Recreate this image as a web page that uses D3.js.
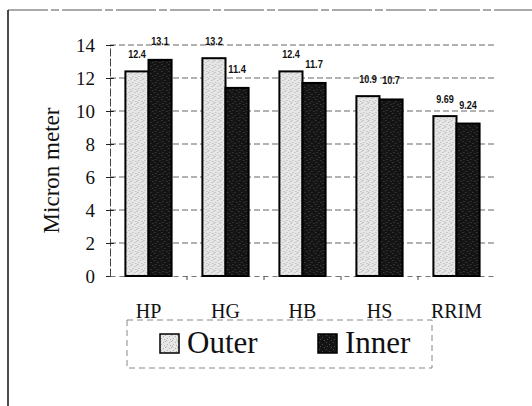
<!DOCTYPE html>
<html>
<head>
<meta charset="utf-8">
<script src="https://cdn.jsdelivr.net/npm/d3@7"></script>
<style>
  html, body { margin: 0; padding: 0; background: #fff; }
  svg { display: block; }
</style>
</head>
<body>
<svg id="chart" width="532" height="406"></svg>
<script>
const categories = ["HP", "HG", "HB", "HS", "RRIM"];
const seriesNames = ["Outer", "Inner"];
const outerValues = [12.4, 13.2, 12.4, 10.9, 9.69];
const innerValues = [13.1, 11.4, 11.7, 10.7, 9.24];
const yTicks = [0, 2, 4, 6, 8, 10, 12, 14];
const yTitle = "Micron meter";

const svg = d3.select("#chart");
const W = 532, H = 406;
const plot = { left: 110, right: 495, top: 45, bottom: 276 };

// patterns
const defs = svg.append("defs");
const pOuter = defs.append("pattern").attr("id", "pOuter").attr("patternUnits", "userSpaceOnUse")
  .attr("width", 6).attr("height", 6);
pOuter.append("rect").attr("width", 6).attr("height", 6).attr("fill", "#e6e6e6");
[[0,0],[3,2],[1,4],[4,5],[5,1]].forEach(([x,y]) =>
  pOuter.append("rect").attr("x", x).attr("y", y).attr("width", 1).attr("height", 1).attr("fill", "#b0b0b0"));
const pInner = defs.append("pattern").attr("id", "pInner").attr("patternUnits", "userSpaceOnUse")
  .attr("width", 7).attr("height", 7);
pInner.append("rect").attr("width", 7).attr("height", 7).attr("fill", "#141414");
[[1,1],[4,3],[2,5],[6,6]].forEach(([x,y]) =>
  pInner.append("rect").attr("x", x).attr("y", y).attr("width", 1).attr("height", 1).attr("fill", "#4a4a4a"));

// outer chart frame
svg.append("line").attr("x1", 8).attr("x2", W).attr("y1", 10).attr("y2", 10)
  .attr("stroke", "#555").attr("stroke-width", 1).attr("stroke-dasharray", "40,3,8,3");
svg.append("line").attr("x1", 8).attr("x2", 8).attr("y1", 10).attr("y2", H)
  .attr("stroke", "#111").attr("stroke-width", 1.5);

const y = d3.scaleLinear().domain([0, 14]).range([plot.bottom, plot.top]);
const x0 = d3.scaleBand().domain(categories).range([plot.left, plot.right])
  .paddingInner(0.4).paddingOuter(0.2);
const x1 = d3.scaleBand().domain(seriesNames).range([0, x0.bandwidth()]).padding(0);

// gridlines
svg.append("g").selectAll("line").data(yTicks.filter(d => d > 0)).join("line")
  .attr("x1", plot.left).attr("x2", plot.right)
  .attr("y1", d => y(d)).attr("y2", d => y(d))
  .attr("stroke", "#666").attr("stroke-width", 1).attr("stroke-dasharray", "6,3");

// y axis
const yAxis = d3.axisLeft(y).tickValues(yTicks).tickSize(4).tickSizeOuter(0);
const gy = svg.append("g").attr("transform", `translate(${plot.left},0)`).call(yAxis);
gy.select(".domain").attr("stroke", "#444").attr("stroke-dasharray", "8,2");
gy.selectAll(".tick line").attr("stroke", "#222").attr("x2", 4).attr("x1", -4);
gy.selectAll(".tick text").attr("x", -15)
  .attr("font-family", "'Liberation Serif', 'Times New Roman', serif")
  .attr("font-size", 19).attr("fill", "#111");

// x axis
const xAxis = d3.axisBottom(x0).tickSize(0).tickPadding(28);
const gx = svg.append("g").attr("transform", `translate(0,${plot.bottom})`).call(xAxis);
gx.select(".domain").attr("stroke", "#777").attr("stroke-dasharray", "5,4");
gx.selectAll(".tick text")
  .attr("font-family", "'Liberation Serif', 'Times New Roman', serif")
  .attr("font-size", 20).attr("fill", "#111");
// small separators between categories
svg.append("g").selectAll("line").data(categories.slice(1)).join("line")
  .attr("x1", d => x0(d) - x0.step() * x0.paddingInner() / 2)
  .attr("x2", d => x0(d) - x0.step() * x0.paddingInner() / 2)
  .attr("y1", plot.bottom).attr("y2", plot.bottom + 4)
  .attr("stroke", "#444");

// y title
svg.append("text")
  .attr("transform", `translate(59,${(plot.top + plot.bottom) / 2 + 10}) rotate(-90)`)
  .attr("text-anchor", "middle")
  .attr("font-family", "'Liberation Serif', 'Times New Roman', serif")
  .attr("font-size", 23).attr("fill", "#111")
  .text(yTitle);

// bars
const rows = categories.map((c, i) => ({ cat: c, vals: [outerValues[i], innerValues[i]] }));
const fills = ["url(#pOuter)", "url(#pInner)"];
const g = svg.append("g").selectAll("g").data(rows).join("g")
  .attr("transform", d => `translate(${x0(d.cat)},0)`);
g.selectAll("rect").data(d => d.vals.map((v, j) => ({ s: seriesNames[j], v, j }))).join("rect")
  .attr("x", d => x1(d.s)).attr("width", x1.bandwidth())
  .attr("y", d => y(d.v)).attr("height", d => y(0) - y(d.v))
  .attr("fill", d => fills[d.j]).attr("stroke", "#000").attr("stroke-width", 2);

// value labels (condensed bold sans)
g.selectAll("text").data(d => d.vals.map((v, j) => ({ s: seriesNames[j], v, j }))).join("text")
  .attr("x", d => x1(d.s) + x1.bandwidth() / 2)
  .attr("y", d => y(d.v) - (d.j === 0 ? 13 : 15))
  .attr("text-anchor", "middle")
  .attr("font-family", "'Liberation Sans', Arial, sans-serif")
  .attr("font-weight", "bold").attr("font-size", 11.5).attr("fill", "#111")
  .attr("textLength", d => String(d.v).length * 4.4)
  .attr("lengthAdjust", "spacingAndGlyphs")
  .text(d => d.v);

// legend
const lg = svg.append("g");
lg.append("rect").attr("x", 127).attr("y", 320).attr("width", 305).attr("height", 48)
  .attr("fill", "none").attr("stroke", "#888").attr("stroke-dasharray", "6,4");
const items = lg.selectAll("g").data(seriesNames).join("g")
  .attr("transform", (d, i) => `translate(${160 + i * 158},334)`);
items.append("rect").attr("width", 19).attr("height", 19)
  .attr("fill", (d, i) => fills[i]).attr("stroke", "#000").attr("stroke-width", 1.5);
items.append("text").attr("x", 27).attr("y", 19)
  .attr("font-family", "'Liberation Serif', 'Times New Roman', serif")
  .attr("font-size", 31).attr("fill", "#111")
  .text(d => d);
</script>
</body>
</html>
